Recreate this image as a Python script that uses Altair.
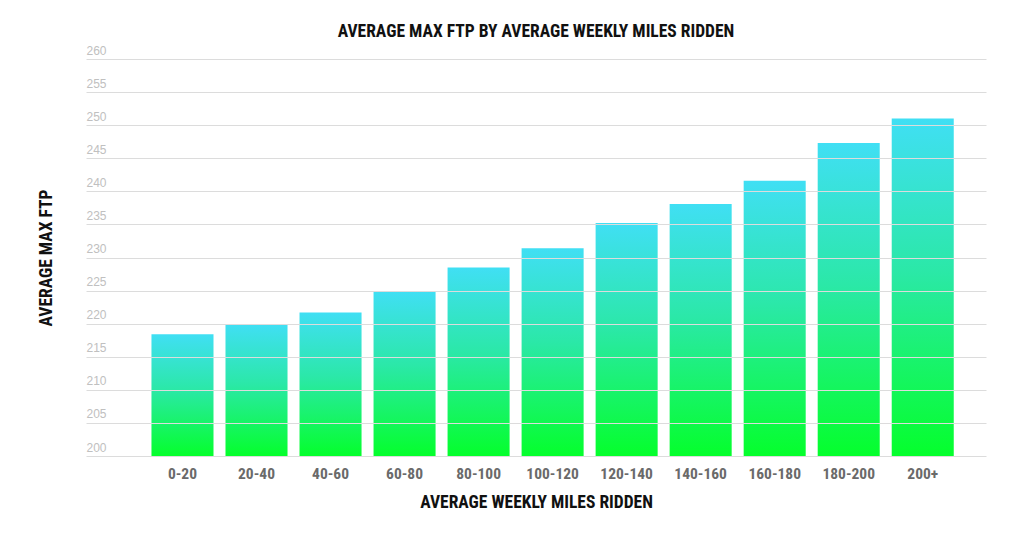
import altair as alt
import pandas as pd

categories = ["0-20", "20-40", "40-60", "60-80", "80-100", "100-120",
              "120-140", "140-160", "160-180", "180-200", "200+"]
values = [218.4, 219.9, 221.7, 224.9, 228.5, 231.4, 235.2, 238.1, 241.6, 247.3, 251.0]
baseline = [200] * len(categories)

df = pd.DataFrame({"miles": categories, "ftp": values, "base": baseline})

FONT = "Roboto Condensed, Liberation Sans Narrow, sans-serif"

gradient = alt.Gradient(
    gradient="linear",
    stops=[alt.GradientStop(color="#40DFF4", offset=0),
           alt.GradientStop(color="#2BE8A8", offset=0.45),
           alt.GradientStop(color="#05FF2C", offset=1)],
    x1=1, x2=1, y1=0, y2=1,
)

chart = alt.Chart(df).mark_bar(color=gradient).encode(
    x=alt.X("miles:N", sort=categories,
            scale=alt.Scale(paddingInner=0.162, paddingOuter=0.66, align=0.67),
            axis=alt.Axis(title="AVERAGE WEEKLY MILES RIDDEN", labelAngle=0,
                          ticks=False, domain=False, grid=False,
                          labelFont=FONT, labelFontSize=15.5, labelFontWeight="bold",
                          labelColor="#6a6a6a", labelPadding=10,
                          titleFont=FONT, titleFontSize=17.5, titleFontWeight="bold",
                          titleColor="#111111", titlePadding=12)),
    y=alt.Y("ftp:Q",
            scale=alt.Scale(domain=[200, 260], nice=False, zero=False),
            axis=alt.Axis(title="AVERAGE MAX FTP", values=list(range(200, 261, 5)),
                          ticks=False, domain=False, grid=True, gridColor="#dcdcdc",
                          gridWidth=1, zindex=1,
                          labelAlign="left", labelBaseline="bottom", labelPadding=0,
                          labelOffset=-2, labelFont="Liberation Sans, Arial, sans-serif",
                          labelFontSize=12, labelColor="#c0c0c0",
                          titleFont=FONT, titleFontSize=17.5, titleFontWeight="bold",
                          titleColor="#111111", titleX=-31, titleY=198.5,
                          titleBaseline="bottom")),
    y2=alt.Y2("base:Q"),
).properties(
    width=900, height=397,
    title=alt.TitleParams("AVERAGE MAX FTP BY AVERAGE WEEKLY MILES RIDDEN",
                          font=FONT, fontSize=17.5, fontWeight="bold", color="#111111",
                          anchor="middle", offset=4),
    autosize=alt.AutoSizeParams(type="none"),
    padding={"left": 78, "top": 51, "right": 20, "bottom": 75},
).configure_view(stroke=None)

chart.save("out.html", embed_options={"renderer": "svg", "actions": False})
